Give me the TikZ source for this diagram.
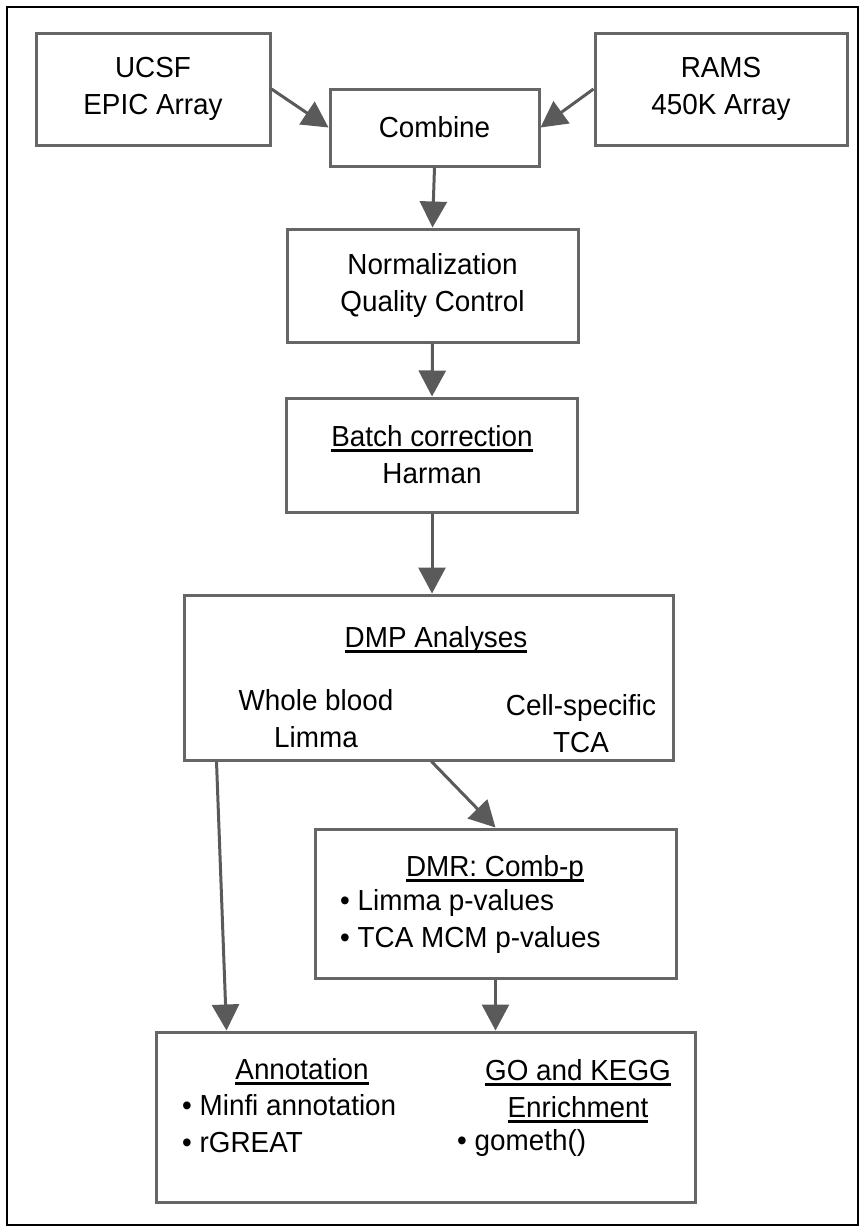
\documentclass[tikz,border=0pt]{standalone}
\usepackage{fontspec}
\setmainfont{Liberation Sans}[FakeStretch=0.96]
\usetikzlibrary{arrows.meta}
\definecolor{boxgray}{HTML}{666666}
\definecolor{arrowgray}{HTML}{5A5A5A}
\newcommand{\undl}[1]{\setbox0\hbox{#1}\leavevmode\rlap{\rule[-5.5pt]{\wd0}{3pt}}\box0}

\begin{document}
\begin{tikzpicture}[
                        x = 1pt,
                        y = -1pt,
                        flow/.style = {-{Triangle[length=26pt,width=27pt]}, draw = arrowgray, fill = arrowgray, line width = 3pt},
                        font = \fontsize{29pt}{37pt}\selectfont
                        ]

                        \tikzstyle{box}=[
                                draw = boxgray,
                                rectangle,
                                line width = 3pt,
                                fill = white,
                                align = center,
                                inner sep = 0pt
                        ]
                        \tikzstyle{txt}=[
                                inner sep = 0pt,
                                align = center
                        ]

                        \useasboundingbox (0,0) rectangle (865,1232);
                        \draw[black, line width = 2pt] (7,7) rectangle (858,1225);

                        \node[box, minimum width = 234pt, minimum height = 112pt] (ucsf) at (153,89) {UCSF\\EPIC Array};
                        \node[box, minimum width = 252pt, minimum height = 112pt] (rams) at (721,89) {RAMS\\450K Array};
                        \node[box, minimum width = 209pt, minimum height = 77pt] (combine) at (434.5,127.5) {Combine};
                        \node[box, minimum width = 291pt, minimum height = 113pt] (norm) at (432.5,285.5) {Normalization\\Quality Control};
                        \node[box, minimum width = 291pt, minimum height = 114pt] (batch) at (432,455) {\undl{Batch correction}\\Harman};
                        \node[box, minimum width = 489pt, minimum height = 165pt] (dmp) at (428.5,677.5) {};
                        \node[box, minimum width = 361pt, minimum height = 149pt] (dmr) at (495.5,903.5) {};
                        \node[box, minimum width = 539pt, minimum height = 170pt] (results) at (425.5,1117) {};

                        \node[txt] (dmptitle) at (436,640) {\undl{DMP Analyses}};
                        \node[txt] (whole) at (316,719) {Whole blood\\Limma};
                        \node[txt] (cell) at (581,724) {Cell-specific\\TCA};
                        \node[txt] (dmrtitle) at (495,869) {\undl{DMR: Comb-p}};
                        \node[txt, anchor = west, align = left] (dmrlist) at (340,921) {• Limma p-values\\• TCA MCM p-values};
                        \node[txt] (annottitle) at (302,1072) {\undl{Annotation}};
                        \node[txt, anchor = west, align = left] (annotlist) at (182,1124) {• Minfi annotation\\• rGREAT};
                        \node[txt] (gotitle) at (578,1091) {\undl{GO and KEGG}\\\undl{Enrichment}};
                        \node[txt, anchor = west] (golist) at (457,1143) {• gometh()};

                        \draw[flow] (ucsf.east) -- (combine.west);
                        \draw[flow] (rams.west) -- (combine.east);
                        \draw[flow] (combine.south) -- (norm.north);
                        \draw[flow] (norm.south) -- (batch.north);
                        \draw[flow] (batch.south) -- (batch.south |- dmp.north);
                        \draw[flow] ([xshift = 34pt]dmp.south west) -- ([xshift = 72pt]results.north west);
                        \draw[flow] ([xshift = 3pt]dmp.south) -- (dmr.north);
                        \draw[flow] (dmr.south) -- (dmr.south |- results.north);
                \end{tikzpicture}
\end{document}
